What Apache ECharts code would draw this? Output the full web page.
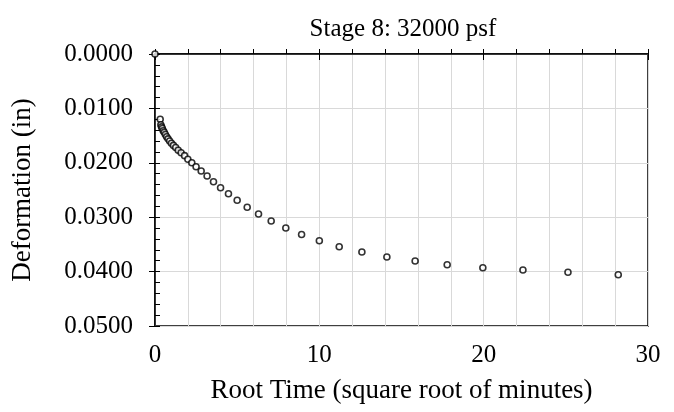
<!DOCTYPE html>
<html>
<head>
<meta charset="utf-8">
<script src="https://cdn.jsdelivr.net/npm/echarts@6/dist/echarts.min.js"></script>
<style>html,body{margin:0;padding:0;background:#fff}#c{width:674px;height:412px}</style>
</head>
<body>
<div id="c"></div>
<script>
var titleText = "Stage 8: 32000 psf";
var xName = "Root Time (square root of minutes)";
var yName = "Deformation (in)";
// root time (sqrt minutes)
var rootTime = [0, 0.316, 0.355, 0.398, 0.447, 0.501, 0.562, 0.631, 0.708, 0.794, 0.891, 1.0, 1.122, 1.259, 1.413,
  1.59, 1.80, 2.00, 2.24, 2.50, 2.81, 3.17, 3.56, 3.99, 4.47, 5.00, 5.61, 6.30, 7.07, 7.96, 8.92,
  10.00, 11.21, 12.59, 14.11, 15.83, 17.78, 19.95, 22.39, 25.13, 28.19];
// deformation (in)
var deformation = [0, 0.0120, 0.0130, 0.0134, 0.0137, 0.0141, 0.0144, 0.0148, 0.0152, 0.0156, 0.0160, 0.0164, 0.0168, 0.0172, 0.0177,
  0.01814, 0.01869, 0.01936, 0.01998, 0.02072, 0.02151, 0.02243, 0.02348, 0.02458, 0.02568, 0.02689, 0.02818, 0.02941, 0.03070, 0.03199, 0.03318,
  0.03432, 0.03542, 0.03640, 0.03732, 0.03805, 0.03873, 0.03928, 0.03971, 0.04013, 0.04057];

var pts = rootTime.map(function (x, i) { return [x, deformation[i]]; });
var font = "'Liberation Serif', 'Times New Roman', serif";
var chart = echarts.init(document.getElementById('c'));
chart.setOption({
  animation: false,
  backgroundColor: '#fff',
  title: { text: titleText, left: 398, top: 12, textAlign: 'center',
    textStyle: { fontFamily: font, fontSize: 25, fontWeight: 'normal', color: '#000' } },
  grid: { left: 155, right: 26, top: 54, bottom: 86, show: true, borderColor: '#000', borderWidth: 1.5, backgroundColor: 'transparent' },
  xAxis: [{
    type: 'value', min: 0, max: 30, interval: 10, position: 'bottom',
    name: xName, nameLocation: 'middle', nameGap: 51,
    nameTextStyle: { fontFamily: font, fontSize: 27, color: '#000' },
    axisLine: { show: true, lineStyle: { color: '#000', width: 1.5 } },
    axisTick: { show: true, inside: true, length: 5, lineStyle: { color: '#000' } },
    minorTick: { show: true, splitNumber: 5, length: 5, lineStyle: { color: '#000' } },
    axisLabel: { fontFamily: font, fontSize: 25, color: '#000', margin: 17 },
    splitLine: { show: true, lineStyle: { color: '#d9d9d9', width: 1 } },
    minorSplitLine: { show: true, lineStyle: { color: '#d9d9d9', width: 1 } }
  }, {
    type: 'value', min: 0, max: 30, interval: 10, position: 'bottom', gridIndex: 0,
    axisLine: { show: false }, axisLabel: { show: false }, splitLine: { show: false },
    axisTick: { show: true, inside: false, length: 6, lineStyle: { color: '#000' } }
  }],
  yAxis: [{
    type: 'value', min: 0, max: 0.05, interval: 0.01, inverse: true,
    name: yName, nameLocation: 'middle', nameGap: 119, nameRotate: 90,
    nameTextStyle: { fontFamily: font, fontSize: 27, color: '#000' },
    axisLine: { show: true, lineStyle: { color: '#000', width: 1.5 } },
    axisTick: { show: true, inside: true, length: 5, lineStyle: { color: '#000' } },
    minorTick: { show: true, splitNumber: 5, length: 5, lineStyle: { color: '#000' } },
    axisLabel: { fontFamily: font, fontSize: 25, color: '#000', margin: 22,
      formatter: function (v) { return v.toFixed(4); } },
    splitLine: { show: true, lineStyle: { color: '#d9d9d9', width: 1 } }
  }, {
    type: 'value', min: 0, max: 0.05, interval: 0.01, inverse: true, position: 'left',
    axisLine: { show: false }, axisLabel: { show: false }, splitLine: { show: false },
    axisTick: { show: true, inside: false, length: 6, lineStyle: { color: '#000' } }
  }],
  series: [{
    type: 'scatter', data: pts, xAxisIndex: 0, yAxisIndex: 0,
    symbol: 'circle', symbolSize: 6, clip: false,
    itemStyle: { color: '#fff', borderColor: '#000', borderWidth: 1.6 },
    z: 5
  }]
});
</script>
</body>
</html>
